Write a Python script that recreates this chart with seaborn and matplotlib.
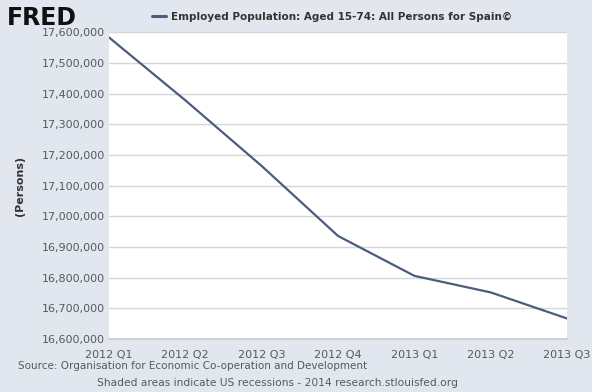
import matplotlib
matplotlib.use("Agg")
import matplotlib.pyplot as plt
import matplotlib.ticker as mticker
import numpy as np
import pandas as pd
import seaborn as sns

# FRED: employed population aged 15-74, Spain (quarterly)
quarters = ["2012 Q1", "2012 Q2", "2012 Q3", "2012 Q4", "2013 Q1", "2013 Q2", "2013 Q3"]
employed = [17583000, 17378000, 17164000, 16936000, 16806000, 16752000, 16667000]
y_ticks = [16600000, 16700000, 16800000, 16900000, 17000000,
           17100000, 17200000, 17300000, 17400000, 17500000, 17600000]

sns.set_theme(style="white")
plt.rcParams["font.family"] = ["DejaVu Sans"]

bg = "#e2e7ef"
line_color = "#4b5d7c"
text_grey = "#555a60"

df = pd.DataFrame({"pos": np.arange(len(quarters)), "value": employed})

fig = plt.figure(figsize=(5.92, 3.92), dpi=100, facecolor=bg)
ax = fig.add_axes([0.184, 0.135, 0.774, 0.783])
ax.set_facecolor("white")

sns.lineplot(data=df, x="pos", y="value", ax=ax, color=line_color, linewidth=1.6,
             label="Employed Population: Aged 15-74: All Persons for Spain\u00a9")

ax.set_xlim(0, len(quarters) - 1)
ax.set_ylim(y_ticks[0], y_ticks[-1])
ax.set_xticks(df["pos"])
ax.set_xticklabels(quarters)
ax.set_yticks(y_ticks)
ax.yaxis.set_major_formatter(mticker.FuncFormatter(lambda v, p: f"{int(v):,}"))
ax.grid(axis="y", color="#d6d6d6", linewidth=1)
ax.set_axisbelow(True)
ax.tick_params(axis="both", labelsize=8, colors=text_grey, length=0, pad=3)
ax.tick_params(axis="x", length=4, color="#c8ccd2", pad=4)
ax.set_xlabel("")
ax.set_ylabel("(Persons)", fontsize=8, fontweight="bold", color="#333333", labelpad=12)
for side in ["top", "right", "left"]:
    ax.spines[side].set_visible(False)
ax.spines["bottom"].set_color("#c8ccd2")

# series legend above the plot, FRED style
leg = ax.legend(loc="center left", bbox_to_anchor=(0.257, 0.957),
                bbox_transform=fig.transFigure, frameon=False,
                handlelength=1.3, handletextpad=0.5, borderpad=0, borderaxespad=0,
                prop={"size": 7.5, "weight": "bold"})
for t in leg.get_texts():
    t.set_color("#333333")
for h in leg.get_lines():
    h.set_linewidth(2.2)

# logo
fig.text(0.012, 0.955, "FRED", fontsize=17, fontweight="heavy", color="#111111",
         va="center", ha="left")

# footer
fig.text(0.03, 0.066, "Source: Organisation for Economic Co-operation and Development",
         fontsize=7.5, color=text_grey, va="center", ha="left")
fig.text(0.164, 0.022, "Shaded areas indicate US recessions - 2014 research.stlouisfed.org",
         fontsize=7.7, color=text_grey, va="center", ha="left")

fig.savefig("out.png", dpi=100, facecolor=bg)
